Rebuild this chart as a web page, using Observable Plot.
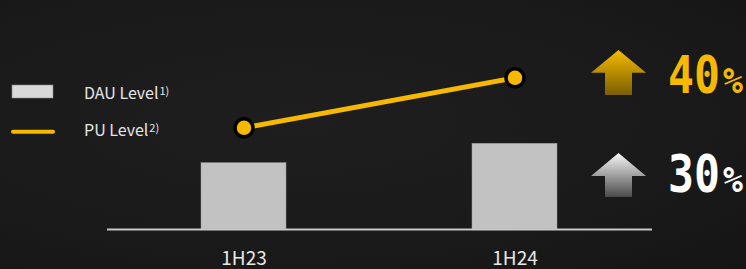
<!DOCTYPE html>
<html>
<head>
<meta charset="utf-8">
<script src="https://cdn.jsdelivr.net/npm/d3@7"></script>
<script src="https://cdn.jsdelivr.net/npm/@observablehq/plot@0.6"></script>
<style>
  html, body { margin: 0; padding: 0; background: #191919; }
  #wrap { position: relative; width: 746px; height: 269px; overflow: hidden;
    background: radial-gradient(ellipse at 40% 45%, #1e1e1e 0%, #1a1a1a 60%, #151515 100%); }
  #wrap > svg { position: absolute; left: 0; top: 0; }
</style>
</head>
<body>
<div id="wrap"></div>
<script>
// ---- data ----
const periods = ["1H23", "1H24"];
const dauLevel = [66.3, 85.7];     // bar heights (relative units)
const puLevel = [101.7, 151.7];    // line/dot values (relative units)
const legendLabels = ["DAU Level", "PU Level"];
const legendNotes = ["1)", "2)"];
const growthValues = ["40", "30"]; // PU growth, DAU growth (%)

const rows = periods.map((p, i) => ({period: p, dau: dauLevel[i], pu: puLevel[i]}));

const gold = "#f7b900";
const fontUI = "'Noto Sans CJK JP', 'Noto Sans', sans-serif";

const chart = Plot.plot({
  width: 746,
  height: 269,
  marginLeft: 107,
  marginRight: 94,
  marginTop: 29,
  marginBottom: 40,
  style: {background: "transparent", overflow: "visible"},
  x: {type: "band", domain: periods, paddingInner: 0.6857, paddingOuter: 0.3447, label: null},
  y: {domain: [0, 200], axis: null},
  marks: [
    Plot.barY(rows, {x: "period", y: "dau", fill: "#c2c2c2", stroke: "#9a9a9a", strokeWidth: 0.5}),
    Plot.ruleY([0], {stroke: "#c8c8c8", strokeWidth: 2}),
    Plot.axisX({tickSize: 0, tickPadding: 22, fontSize: 19, fontFamily: fontUI, fill: "#e8e8e8"}),
    Plot.line(rows, {x: "period", y: "pu", stroke: gold, strokeWidth: 5}),
    Plot.dot(rows, {x: "period", y: "pu", r: 9, fill: gold, stroke: "#000", strokeWidth: 3.5})
  ]
});
chart.querySelectorAll("text").forEach(t => t.style.fontFamily = fontUI);
document.getElementById("wrap").appendChild(chart);

// ---- overlay: legend and growth badges ----
const ov = d3.select("#wrap").append("svg").attr("width", 746).attr("height", 269);
const defs = ov.append("defs");
const g1 = defs.append("linearGradient").attr("id", "gGold").attr("x1", 0).attr("y1", 0).attr("x2", 0).attr("y2", 1);
g1.append("stop").attr("offset", "0%").attr("stop-color", "#f4bb00");
g1.append("stop").attr("offset", "100%").attr("stop-color", "#7a5d00");
const g2 = defs.append("linearGradient").attr("id", "gWhite").attr("x1", 0).attr("y1", 0).attr("x2", 0).attr("y2", 1);
g2.append("stop").attr("offset", "0%").attr("stop-color", "#f8f8f8");
g2.append("stop").attr("offset", "100%").attr("stop-color", "#4a4a4a");

// legend
const lg = ov.append("g");
lg.append("rect").attr("x", 12).attr("y", 85).attr("width", 41).attr("height", 13)
  .attr("fill", "#d9d9d9").attr("stroke", "#8a8a8a").attr("stroke-width", 0.6);
lg.append("line").attr("x1", 13).attr("x2", 53).attr("y1", 131.7).attr("y2", 131.7)
  .attr("stroke", gold).attr("stroke-width", 4).attr("stroke-linecap", "round");
[98.8, 136].forEach((y, i) => {
  const t = lg.append("text").attr("x", 84).attr("y", y).attr("fill", "#e6e6e6")
    .style("font-family", fontUI).style("font-size", "16px");
  t.append("tspan").text(legendLabels[i]);
  t.append("tspan").attr("dy", -4).attr("dx", 1).style("font-size", "11px").text(legendNotes[i]);
});

// growth arrows and values
const badges = [
  {top: 50, neck: 72.7, bottom: 95, grad: "url(#gGold)", color: gold, base: 92.7, value: growthValues[0]},
  {top: 153, neck: 176, bottom: 197, grad: "url(#gWhite)", color: "#ffffff", base: 192.3, value: growthValues[1]}
];
badges.forEach(b => {
  const pts = [[618.5, b.top], [646, b.neck], [632, b.neck], [632, b.bottom], [605, b.bottom], [605, b.neck], [591, b.neck]];
  ov.append("polygon").attr("points", pts.map(p => p.join(",")).join(" ")).attr("fill", b.grad);
  ov.append("text").attr("transform", `translate(668,${b.base}) scale(0.83,1)`).attr("fill", b.color)
    .style("font-family", "'DejaVu Sans Mono', monospace").style("font-weight", "bold").style("font-size", "52px")
    .text(b.value);
  ov.append("text").attr("transform", `translate(723,${b.base}) scale(0.92,1)`).attr("fill", b.color)
    .style("font-family", "'DejaVu Sans Mono', monospace").style("font-weight", "bold").style("font-size", "36px")
    .text("%");
});
</script>
</body>
</html>
